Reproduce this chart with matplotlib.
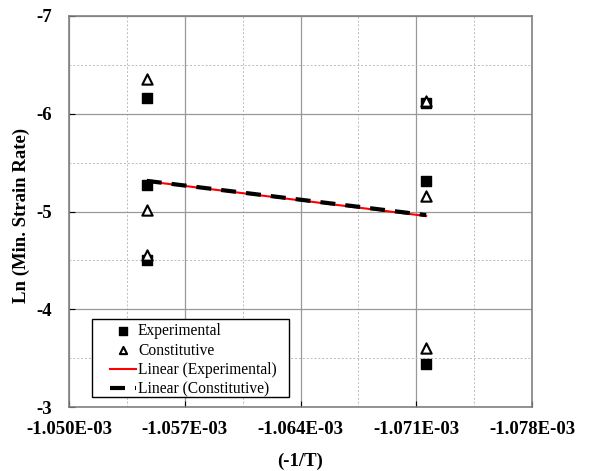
import numpy as np
import matplotlib
matplotlib.use("Agg")
import matplotlib.pyplot as plt
from matplotlib.ticker import MultipleLocator, FuncFormatter
from matplotlib.patches import Rectangle

x_left = -1.0547e-3
x_right = -1.0716e-3
exp_x = [x_left, x_left, x_left, x_right, x_right, x_right]
exp_y = [-6.16, -5.27, -4.50, -6.11, -5.31, -3.44]
con_x = [x_left, x_left, x_left, x_right, x_right, x_right]
con_y = [-6.36, -5.02, -4.56, -6.13, -5.16, -3.60]

xticks = [-1.050e-3, -1.057e-3, -1.064e-3, -1.071e-3, -1.078e-3]
yticks = [-7, -6, -5, -4, -3]

plt.rcParams['font.family'] = ['Liberation Serif', 'DejaVu Serif']

fig = plt.figure(figsize=(5.99, 4.71), dpi=100)
ax = fig.add_axes([69/599, 1-407/471, (532-69)/599, (407-16)/471])

ax.set_xlim(-1.050e-3, -1.078e-3)
ax.set_ylim(-3, -7)
ax.set_xticks(xticks)
ax.set_yticks(yticks)
ax.xaxis.set_minor_locator(MultipleLocator(3.5e-6))
ax.yaxis.set_minor_locator(MultipleLocator(0.5))
ax.grid(which='major', color='#999999', linewidth=0.9, linestyle='-')
ax.grid(which='minor', color='#bbbbbb', linewidth=0.7, linestyle=(0, (2, 2)))
ax.set_axisbelow(True)
ax.xaxis.set_major_formatter(FuncFormatter(lambda v, p: f"{v*1e3:.3f}E-03"))
ax.yaxis.set_major_formatter(FuncFormatter(lambda v, p: f"{int(round(v))}"))
ax.tick_params(which='minor', length=0)
ax.tick_params(which='major', direction='in', length=4, labelsize=13.5)
ax.tick_params(axis='x', pad=10)
ax.tick_params(axis='y', pad=12)
for lab in ax.get_xticklabels() + ax.get_yticklabels():
    lab.set_fontweight('bold')
for s in ax.spines.values():
    s.set_color('#808080')
    s.set_linewidth(1.2)

ax.scatter(exp_x, exp_y, marker='s', s=60, color='black', zorder=3, label='Experimental')
ax.scatter(con_x, con_y, marker='^', s=55, facecolor='white', edgecolor='black',
           linewidth=1.5, zorder=4, label='Constitutive')

xe = np.array(exp_x); ye = np.array(exp_y)
pe = np.polyfit(xe, ye, 1)
xx = np.array([xe.max(), xe.min()])
ax.plot(xx, np.polyval(pe, xx), color='red', linewidth=1.5, zorder=2, label='Linear (Experimental)')
xc = np.array(con_x); yc = np.array(con_y)
pc = np.polyfit(xc, yc, 1)
xx2 = np.array([xc.max(), xc.min()])
ax.plot(xx2, np.polyval(pc, xx2), color='black', linewidth=3, linestyle=(0, (3.6, 2.4)),
        zorder=2, label='Linear (Constitutive)')

# legend (frame drawn separately to reproduce the wide left margin)
leg = ax.legend(loc='upper left', bbox_to_anchor=((110-69)/463, (407-323)/391),
                fontsize=11.2, frameon=False, borderpad=0, borderaxespad=0,
                labelspacing=0.23, handlelength=1.65, handletextpad=0.15,
                markerscale=0.7)
ax.add_patch(Rectangle(((92-69)/463, (407-397)/391), (289-92)/463, (397-319)/391,
                       transform=ax.transAxes, facecolor='white', edgecolor='black',
                       linewidth=1.0, zorder=5))
leg.set_zorder(6)

ax.set_xlabel('(-1/T)', fontsize=13.5, fontweight='bold', labelpad=11)
ax.set_ylabel('Ln (Min. Strain Rate)', fontsize=13.5, fontweight='bold', labelpad=11)
ax.yaxis.set_label_coords(-(69-30)/463, 0.49)

fig.savefig('out.png', dpi=100)
